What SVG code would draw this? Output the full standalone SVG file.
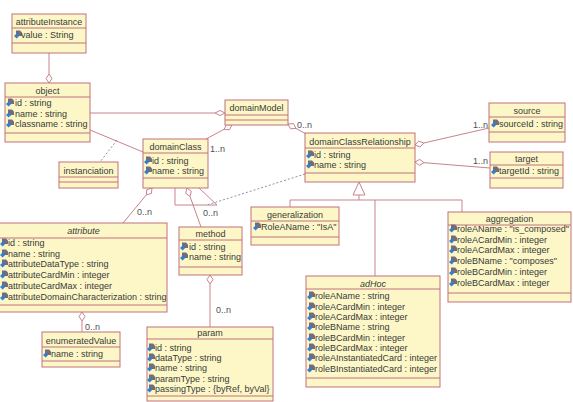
<svg xmlns="http://www.w3.org/2000/svg" xmlns:xlink="http://www.w3.org/1999/xlink" width="573" height="402" viewBox="0 0 573 402">
<style>
.box{fill:#FDF7C7;stroke:#C0707C;stroke-width:1}
.sep{stroke:#C0707C;stroke-width:1;fill:none}
.ln{stroke:#C7848C;stroke-width:1;fill:none}
.dash{stroke:#9090A0;stroke-width:1;fill:none;stroke-dasharray:2,2}
.dia{fill:#FFFFFF;stroke:#C7848C;stroke-width:1}
text{font-family:"Liberation Sans",Arial,sans-serif;font-size:9px;fill:#3A3A3A}
.h{text-anchor:middle}
.it{font-style:italic}
.lbl{font-size:9px;fill:#505050}
</style>
<defs>
<g id="ic">
<path d="M2,-7.5 h4 l2,2 v3.5 h-6z" fill="#6E6E7E"/>
<path d="M0,-2 l2.6,-2.6 l2.6,2.6 l-2.6,2.6z" fill="#2F7FD2"/>
</g>
</defs>
<rect width="573" height="402" fill="#FFFFFF"/>

<g id="connectors">
<line class="ln" x1="49" y1="53" x2="49" y2="74"/>
<polygon class="dia" points="49,83 52,78.5 49,74 46,78.5"/>
<line class="ln" x1="90" y1="113" x2="215" y2="113"/>
<polygon class="dia" points="225,113 220,110.5 215,113 220,115.5"/>
<line class="ln" x1="90" y1="130" x2="143" y2="152"/>
<line class="dash" x1="117" y1="140" x2="100" y2="162"/>
<line class="ln" x1="224.1" y1="129.3" x2="206" y2="139"/>
<polygon class="dia" points="232,125 229.4,129.8 224.1,129.3 226.6,124.5"/>
<line class="ln" x1="296" y1="128.4" x2="306" y2="134"/>
<polygon class="dia" points="288,124 290.5,128.8 296,128.4 293.5,123.6"/>
<line class="ln" x1="423.8" y1="143" x2="489" y2="128"/>
<polygon class="dia" points="415,145 420.1,146.9 423.8,143 418.7,141.1"/>
<line class="ln" x1="424" y1="162.7" x2="490" y2="168"/>
<polygon class="dia" points="415,162 419.3,165.4 424,162.7 419.7,159.4"/>
<polyline class="ln" points="359,195 359,200"/>
<polyline class="ln" points="290,207 290,200 462,200 462,212"/>
<line class="ln" x1="375" y1="200" x2="375" y2="276"/>
<polygon class="dia" points="359,182 365,195 353,195"/>
<line class="ln" x1="146.3" y1="194.9" x2="123" y2="223"/>
<polygon class="dia" points="152,188 151.4,193.4 146.3,194.9 146.8,189.6"/>
<line class="ln" x1="190" y1="196.5" x2="201" y2="227"/>
<polygon class="dia" points="187,188 185.7,193.2 190,196.5 191.3,191.2"/>
<polyline class="ln" points="175,188 175,205 217,205 199,188"/>
<line class="dash" x1="305" y1="174" x2="207" y2="205"/>
<line class="ln" x1="82" y1="321" x2="82" y2="332"/>
<polygon class="dia" points="82,312 85,316.5 82,321 79,316.5"/>
<line class="ln" x1="210" y1="284" x2="210" y2="327"/>
<polygon class="dia" points="210,275 213,279.5 210,284 207,279.5"/>
<text class="lbl" x="210" y="152">1..n</text>
<text class="lbl" x="297" y="128">0..n</text>
<text class="lbl" x="473" y="128">1..n</text>
<text class="lbl" x="473" y="164">1..n</text>
<text class="lbl" x="137" y="215">0..n</text>
<text class="lbl" x="203" y="216">0..n</text>
<text class="lbl" x="85" y="330">0..n</text>
<text class="lbl" x="216" y="313">0..n</text>
</g>

<g id="attributeInstance">
<rect class="box" x="12" y="14" width="74" height="39"/>
<line class="sep" x1="12" y1="28" x2="86" y2="28"/>
<line class="sep" x1="12" y1="43" x2="86" y2="43"/>
<text class="h" x="49" y="25">attributeInstance</text>
<use xlink:href="#ic" x="14" y="38"/><text x="21" y="38">value : String</text>
</g>

<g id="object">
<rect class="box" x="5" y="83" width="85" height="59"/>
<line class="sep" x1="5" y1="97" x2="90" y2="97"/>
<line class="sep" x1="5" y1="133" x2="90" y2="133"/>
<text class="h" x="47.5" y="94">object</text>
<use xlink:href="#ic" x="6" y="106"/><text x="15" y="106">id : string</text>
<use xlink:href="#ic" x="6" y="117"/><text x="15" y="117">name : string</text>
<use xlink:href="#ic" x="6" y="127"/><text x="15" y="127">classname : string</text>
</g>

<g id="domainModel">
<rect class="box" x="225" y="100" width="63" height="25"/>
<line class="sep" x1="225" y1="115" x2="288" y2="115"/>
<line class="sep" x1="225" y1="120" x2="288" y2="120"/>
<text class="h" x="256.5" y="111">domainModel</text>
</g>

<g id="domainClass">
<rect class="box" x="143" y="139" width="65" height="49"/>
<line class="sep" x1="143" y1="153" x2="208" y2="153"/>
<line class="sep" x1="143" y1="178" x2="208" y2="178"/>
<text class="h" x="175.5" y="150">domainClass</text>
<use xlink:href="#ic" x="144" y="164"/><text x="152" y="164">id : string</text>
<use xlink:href="#ic" x="144" y="174"/><text x="152" y="174">name : string</text>
</g>

<g id="instanciation">
<rect class="box" x="59" y="162" width="59" height="26"/>
<line class="sep" x1="59" y1="177" x2="118" y2="177"/>
<line class="sep" x1="59" y1="182" x2="118" y2="182"/>
<text class="h" x="88.5" y="174">instanciation</text>
</g>

<g id="domainClassRelationship">
<rect class="box" x="305" y="133" width="110" height="49"/>
<line class="sep" x1="305" y1="148" x2="415" y2="148"/>
<line class="sep" x1="305" y1="173" x2="415" y2="173"/>
<text class="h" x="360" y="145">domainClassRelationship</text>
<use xlink:href="#ic" x="306" y="158"/><text x="314" y="158">id : string</text>
<use xlink:href="#ic" x="306" y="168"/><text x="314" y="168">name : string</text>
</g>

<g id="source">
<rect class="box" x="489" y="103" width="76" height="39"/>
<line class="sep" x1="489" y1="117" x2="565" y2="117"/>
<line class="sep" x1="489" y1="132" x2="565" y2="132"/>
<text class="h" x="527" y="114">source</text>
<use xlink:href="#ic" x="491" y="127"/><text x="499" y="127">sourceId : string</text>
</g>

<g id="target">
<rect class="box" x="490" y="152" width="73" height="36"/>
<line class="sep" x1="490" y1="165" x2="563" y2="165"/>
<line class="sep" x1="490" y1="178" x2="563" y2="178"/>
<text class="h" x="526.5" y="162">target</text>
<use xlink:href="#ic" x="491" y="174"/><text x="499" y="174">targetId : string</text>
</g>

<g id="generalization">
<rect class="box" x="251" y="207" width="88" height="38"/>
<line class="sep" x1="251" y1="221" x2="339" y2="221"/>
<line class="sep" x1="251" y1="237" x2="339" y2="237"/>
<text class="h" x="295" y="218">generalization</text>
<use xlink:href="#ic" x="253" y="230"/><text x="261" y="230">RoleAName : "IsA"</text>
</g>

<g id="aggregation">
<rect class="box" x="448" y="212" width="123" height="90"/>
<line class="sep" x1="448" y1="225" x2="571" y2="225"/>
<line class="sep" x1="448" y1="293" x2="571" y2="293"/>
<text class="h" x="509.5" y="222">aggregation</text>
<use xlink:href="#ic" x="449" y="232"/><text x="457" y="232">roleAName : "is_composed"</text>
<use xlink:href="#ic" x="449" y="243"/><text x="457" y="243">roleACardMin : integer</text>
<use xlink:href="#ic" x="449" y="253"/><text x="457" y="253">roleACardMax : integer</text>
<use xlink:href="#ic" x="449" y="264"/><text x="457" y="264">roleBName : "composes"</text>
<use xlink:href="#ic" x="449" y="275"/><text x="457" y="275">roleBCardMin : integer</text>
<use xlink:href="#ic" x="449" y="286"/><text x="457" y="286">roleBCardMax : integer</text>
</g>

<g id="adHoc">
<rect class="box" x="306" y="276" width="134" height="111"/>
<line class="sep" x1="306" y1="289" x2="440" y2="289"/>
<line class="sep" x1="306" y1="378" x2="440" y2="378"/>
<text class="h it" x="373" y="287">adHoc</text>
<use xlink:href="#ic" x="307" y="299"/><text x="315" y="299">roleAName : string</text>
<use xlink:href="#ic" x="307" y="310"/><text x="315" y="310">roleACardMin : integer</text>
<use xlink:href="#ic" x="307" y="320"/><text x="315" y="320">roleACardMax : integer</text>
<use xlink:href="#ic" x="307" y="330"/><text x="315" y="330">roleBName : string</text>
<use xlink:href="#ic" x="307" y="341"/><text x="315" y="341">roleBCardMin : integer</text>
<use xlink:href="#ic" x="307" y="351"/><text x="315" y="351">roleBCardMax : integer</text>
<use xlink:href="#ic" x="307" y="361"/><text x="315" y="361">roleAInstantiatedCard : integer</text>
<use xlink:href="#ic" x="307" y="372"/><text x="315" y="372">roleBInstantiatedCard : integer</text>
</g>

<g id="attribute">
<rect class="box" x="-3" y="223" width="170" height="89"/>
<line class="sep" x1="-3" y1="238" x2="167" y2="238"/>
<line class="sep" x1="-3" y1="305" x2="167" y2="305"/>
<text class="h it" x="83.5" y="234">attribute</text>
<use xlink:href="#ic" x="0" y="246"/><text x="8" y="246">id : string</text>
<use xlink:href="#ic" x="0" y="257"/><text x="8" y="257">name : string</text>
<use xlink:href="#ic" x="0" y="267"/><text x="8" y="267">attributeDataType : string</text>
<use xlink:href="#ic" x="0" y="278"/><text x="8" y="278">attributeCardMin : integer</text>
<use xlink:href="#ic" x="0" y="289"/><text x="8" y="289">attributeCardMax : integer</text>
<use xlink:href="#ic" x="0" y="300"/><text x="8" y="300">attributeDomainCharacterization : string</text>
</g>

<g id="enumeratedValue">
<rect class="box" x="42" y="332" width="78" height="35"/>
<line class="sep" x1="42" y1="347" x2="120" y2="347"/>
<line class="sep" x1="42" y1="361" x2="120" y2="361"/>
<text class="h" x="81" y="344">enumeratedValue</text>
<use xlink:href="#ic" x="43" y="357"/><text x="51" y="357">name : string</text>
</g>

<g id="method">
<rect class="box" x="179" y="227" width="63" height="48"/>
<line class="sep" x1="179" y1="240" x2="242" y2="240"/>
<line class="sep" x1="179" y1="267" x2="242" y2="267"/>
<text class="h" x="210.5" y="237">method</text>
<use xlink:href="#ic" x="180" y="250"/><text x="189" y="250">id : string</text>
<use xlink:href="#ic" x="180" y="260"/><text x="189" y="260">name : string</text>
</g>

<g id="param">
<rect class="box" x="147" y="327" width="126" height="74"/>
<line class="sep" x1="147" y1="339" x2="273" y2="339"/>
<line class="sep" x1="147" y1="396" x2="273" y2="396"/>
<text class="h" x="210" y="336">param</text>
<use xlink:href="#ic" x="147" y="351"/><text x="155" y="351">id : string</text>
<use xlink:href="#ic" x="147" y="361"/><text x="155" y="361">dataType : string</text>
<use xlink:href="#ic" x="147" y="371"/><text x="155" y="371">name : string</text>
<use xlink:href="#ic" x="147" y="382"/><text x="155" y="382">paramType : string</text>
<use xlink:href="#ic" x="147" y="392"/><text x="155" y="392">passingType : {byRef, byVal}</text>
</g>
</svg>
